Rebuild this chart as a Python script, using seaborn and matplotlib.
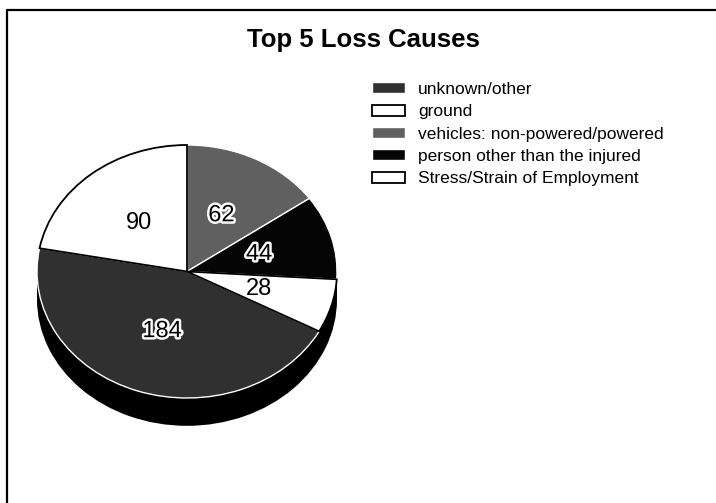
import matplotlib
matplotlib.use('Agg')
import matplotlib.pyplot as plt
import matplotlib.patheffects as pe
from matplotlib.lines import Line2D
import seaborn as sns

# ── Data ───────────────────────────────────────────────────────
causes = ["unknown/other", "ground", "vehicles: non-powered/powered",
          "person other than the injured", "Stress/Strain of Employment"]
counts = [184, 90, 62, 44, 28]
slice_colors = ["#303030", "#ffffff", "#606060", "#050505", "#ffffff"]
outlined = [True, False, True, True, False]

sns.set_theme(style="white")
plt.rcParams['font.family'] = ['Liberation Sans', 'DejaVu Sans']
plt.rcParams['text.color'] = 'black'

W, H = 716, 503
fig = plt.figure(figsize=(W / 100, H / 100), dpi=100)
ax = fig.add_axes([37 / W, 1 - 448.6 / H, 300 / W, 303.6 / H])

total = sum(counts)
# rotate so that "vehicles" starts at 12 o'clock (clockwise order)
start = 90 + 360 * (counts[0] + counts[1]) / total
depth = 0.22

# ── Side wall of the 3D pie ────────────────────────────────────
ax.pie([total], colors=['black'], center=(0, -depth),
       wedgeprops=dict(linewidth=0))
ax.fill_between([-1, 1], -depth, 0, color='black', lw=0)

# ── Top face ───────────────────────────────────────────────────
wedges, texts, autotexts = ax.pie(
    counts, colors=slice_colors, startangle=start, counterclock=False,
    autopct=lambda p: f"{p * total / 100:.0f}", pctdistance=0.5,
    textprops=dict(fontsize=17, color='black'))

for w, col, out, t in zip(wedges, slice_colors, outlined, autotexts):
    if col == "#ffffff":
        w.set_edgecolor('black')
        w.set_linewidth(1.3)
        w.set_zorder(3)
    else:
        w.set_edgecolor('white')
        w.set_linewidth(1.0)
        w.set_zorder(2)
    t.set_zorder(5)
    if out:
        t.set_path_effects([pe.withStroke(linewidth=3.5, foreground='white')])

ax.set_aspect('auto')
ax.set_xlim(-1, 1)
ax.set_ylim(-1.4, 1.0)
ax.axis('off')

# ── Title, legend, frame ───────────────────────────────────────
fig.text(363 / W, 1 - 47 / H, "Top 5 Loss Causes", ha='center', va='baseline',
         fontsize=18.5, fontweight='bold', color='black')

fig.legend(wedges, causes, loc='upper left', bbox_to_anchor=(372 / W, 1 - 82 / H),
           frameon=False, fontsize=12.5, handlelength=1.9, handleheight=0.6,
           handletextpad=0.75, labelspacing=0.42, borderpad=0, borderaxespad=0,
           labelcolor='black')

fig.add_artist(Line2D([7 / W, 1], [1 - 10 / H] * 2, color='black', lw=1.6))
fig.add_artist(Line2D([7 / W] * 2, [0, 1 - 10 / H], color='black', lw=1.6))

fig.savefig("out.png", dpi=100)
